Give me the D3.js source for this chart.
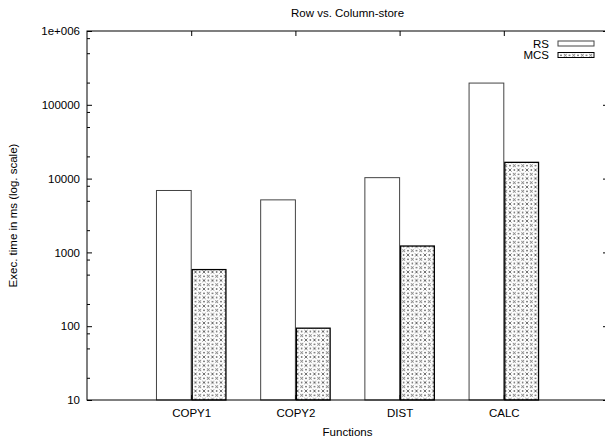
<!DOCTYPE html>
<html>
<head>
<meta charset="utf-8">
<script src="https://cdn.jsdelivr.net/npm/d3@7"></script>
<style>
  html, body { margin: 0; padding: 0; background: #fff; }
  svg { display: block; }
  text { font-family: "Liberation Sans", Arial, Helvetica, sans-serif; fill: #000; }
</style>
</head>
<body>
<script>
const categories = ["COPY1", "COPY2", "DIST", "CALC"];
const seriesNames = ["RS", "MCS"];
const rsValues = [6900, 5150, 10300, 197000];
const mcsValues = [585, 94, 1220, 16600];
const yTickValues = [10, 100, 1000, 10000, 100000, 1000000];
const yTickLabels = ["10", "100", "1000", "10000", "100000", "1e+006"];
const yMinorMultipliers = [2, 5, 8];
const titleText = "Row vs. Column-store";
const xLabelText = "Functions";
const yLabelText = "Exec. time in ms (log. scale)";

const W = 605, H = 440;
const FS = "11.5px";
const svg = d3.select("body").append("svg").attr("width", W).attr("height", H);

const defs = svg.append("defs");
const P = 8.5;
const pat = defs.append("pattern").attr("id", "hatch")
  .attr("patternUnits", "userSpaceOnUse").attr("width", P).attr("height", P);
pat.append("rect").attr("width", P).attr("height", P).attr("fill", "#fff");
pat.append("path").attr("d", `M0,0L${P},${P}M${P},0L0,${P}`)
  .attr("stroke", "#333").attr("stroke-width", 0.7)
  .attr("stroke-dasharray", "4.2,1.8").attr("stroke-dashoffset", 2.1).attr("fill", "none");
[[0,P/2],[P,P/2],[P/2,0],[P/2,P]].forEach(p => pat.append("rect").attr("x", p[0]-0.6).attr("y", p[1]-0.6).attr("width", 1.2).attr("height", 1.2).attr("fill", "#000"));

const pLeft = 87, pRight = 608, pTop = 31, pBottom = 400;
const x = d3.scaleLinear().domain([-1, 4]).range([pLeft, pRight]);
const y = d3.scaleLog().domain([10, 1000000]).range([pBottom, pTop]);
const bw = 1 / 3;

// Bars
const data = categories.map((c, i) => ({ c, i, rs: rsValues[i], mcs: mcsValues[i] }));
const g = svg.append("g");
g.selectAll("rect.rs").data(data).join("rect").attr("class", "rs")
  .attr("x", d => x(d.i - bw)).attr("width", d => x(d.i) - x(d.i - bw))
  .attr("y", d => y(d.rs)).attr("height", d => y(10) - y(d.rs))
  .attr("fill", "#fff").attr("stroke", "#444").attr("stroke-width", 1);
g.selectAll("rect.mcs").data(data).join("rect").attr("class", "mcs")
  .attr("x", d => x(d.i) + 1).attr("width", d => x(d.i + bw) - x(d.i) - 1)
  .attr("y", d => y(d.mcs)).attr("height", d => y(10) - y(d.mcs))
  .attr("fill", "url(#hatch)").attr("stroke", "#000").attr("stroke-width", 1.3);

// Frame
svg.append("rect").attr("x", pLeft).attr("y", pTop).attr("width", pRight - pLeft).attr("height", pBottom - pTop)
  .attr("fill", "none").attr("stroke", "#000").attr("stroke-width", 1);

// Y axis (left, with mirrored right ticks)
const yAxisL = d3.axisLeft(y).tickValues(yTickValues).tickFormat((d, i) => yTickLabels[i]).tickSize(-5).tickPadding(7);
const ga = svg.append("g").attr("transform", `translate(${pLeft},0)`).call(yAxisL);
ga.select(".domain").remove();
ga.selectAll("text").attr("font-size", FS).attr("font-family", "Liberation Sans, Arial, sans-serif").attr("fill", "#000");
const minors = [];
yTickValues.slice(0, -1).forEach(v => yMinorMultipliers.forEach(m => minors.push(v * m)));
const gm = svg.append("g").attr("transform", `translate(${pLeft},0)`)
  .call(d3.axisLeft(y).tickValues(minors).tickFormat("").tickSize(-3));
gm.select(".domain").remove();
const gr = svg.append("g").attr("transform", `translate(${pRight},0)`)
  .call(d3.axisRight(y).tickValues(yTickValues).tickFormat("").tickSize(-5));
gr.select(".domain").remove();
const grm = svg.append("g").attr("transform", `translate(${pRight},0)`)
  .call(d3.axisRight(y).tickValues(minors).tickFormat("").tickSize(-3));
grm.select(".domain").remove();

// X axis
const gx = svg.append("g").attr("transform", `translate(0,${pBottom})`)
  .call(d3.axisBottom(x).tickValues(d3.range(categories.length)).tickFormat(i => categories[i]).tickSize(-5).tickPadding(9));
gx.select(".domain").remove();
gx.selectAll("text").attr("font-size", FS).attr("font-family", "Liberation Sans, Arial, sans-serif").attr("fill", "#000");
const gxt = svg.append("g").attr("transform", `translate(0,${pTop})`)
  .call(d3.axisTop(x).tickValues(d3.range(categories.length)).tickFormat("").tickSize(-5));
gxt.select(".domain").remove();
svg.selectAll(".tick line").attr("stroke", "#000");

// Titles
svg.append("text").attr("x", (pLeft + pRight) / 2).attr("y", 17).attr("text-anchor", "middle")
  .attr("font-size", FS).text(titleText);
svg.append("text").attr("x", (pLeft + pRight) / 2).attr("y", 436).attr("text-anchor", "middle")
  .attr("font-size", FS).text(xLabelText);
svg.append("text").attr("transform", `translate(17,${(pTop + pBottom) / 2}) rotate(-90)`).attr("text-anchor", "middle")
  .attr("font-size", FS).text(yLabelText);

// Legend
const legend = svg.append("g");
seriesNames.forEach((name, i) => {
  const ly = 43.5 + i * 11.5;
  legend.append("text").attr("x", 549).attr("y", ly + 4).attr("text-anchor", "end")
    .attr("font-size", FS).text(name);
  legend.append("rect").attr("x", 558).attr("y", ly - 2.5).attr("width", 36).attr("height", 5)
    .attr("fill", i === 0 ? "#fff" : "url(#hatch)").attr("stroke", i === 0 ? "#444" : "#000").attr("stroke-width", 1);
});
</script>
</body>
</html>
